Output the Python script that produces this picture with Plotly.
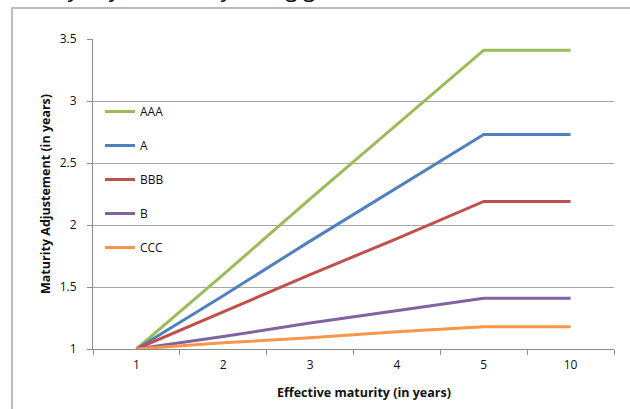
import plotly.graph_objects as go

# Effective maturity buckets (categorical axis)
maturities = ["1", "2", "3", "4", "5", "10"]

# Maturity adjustment by rating grade
aaa = [1.00, 1.60, 2.21, 2.81, 3.41, 3.41]
a_grade = [1.00, 1.43, 1.87, 2.30, 2.73, 2.73]
bbb = [1.00, 1.30, 1.60, 1.89, 2.19, 2.19]
b_grade = [1.00, 1.10, 1.21, 1.31, 1.41, 1.41]
ccc = [1.00, 1.05, 1.09, 1.14, 1.18, 1.18]

series = [
    ("AAA", aaa, "#9BBB59"),
    ("A", a_grade, "#4F81BD"),
    ("BBB", bbb, "#C0504D"),
    ("B", b_grade, "#8064A2"),
    ("CCC", ccc, "#F79646"),
]

W, H = 630, 409
L, R, T, B = 93, 16, 39, 60
pw, ph = W - L - R, H - T - B


def px(x):
    return (x - L) / pw


def py(y):
    return (H - B - y) / ph


font = "Open Sans, Noto Sans, sans-serif"

fig = go.Figure()
for name, vals, col in series:
    fig.add_trace(go.Scatter(
        x=maturities, y=vals, name=name, mode="lines",
        line=dict(color=col, width=3), legendgroup=name,
    ))

fig.update_layout(
    width=W, height=H,
    margin=dict(l=L, r=R, t=T, b=B),
    paper_bgcolor="white", plot_bgcolor="white",
    font=dict(family=font, size=12, color="#111111"),
    showlegend=True,
    legend=dict(
        x=px(100), y=py(97), xanchor="left", yanchor="top",
        bgcolor="rgba(0,0,0,0)", tracegroupgap=15,
        font=dict(size=12, color="#111111"),
    ),
    xaxis=dict(
        type="category", range=[-0.5, len(maturities) - 0.5],
        showgrid=False, showline=True,
        linecolor="#8c8c8c", linewidth=1,
        ticks="outside", tickson="boundaries", ticklen=5,
        tickcolor="#8c8c8c", ticklabelstandoff=5,
        tickfont=dict(size=12), zeroline=False,
    ),
    yaxis=dict(
        range=[1, 3.5], dtick=0.5, tick0=1,
        showgrid=True, gridcolor="#a6a6a6", gridwidth=1,
        showline=True, linecolor="#8c8c8c", linewidth=1,
        ticks="outside", ticklen=5, tickcolor="#8c8c8c",
        ticklabelstandoff=8, tickfont=dict(size=12),
        zeroline=False,
    ),
    annotations=[
        dict(text="<b>Effective maturity (in years)</b>", xref="paper",
             yref="paper", x=px(364), y=py(392), showarrow=False,
             font=dict(size=12.5), xanchor="center", yanchor="middle"),
        dict(text="<b>Maturity Adjustement (in years)</b>", xref="paper",
             yref="paper", x=px(45), y=py(194), showarrow=False,
             textangle=-90, font=dict(size=12.5),
             xanchor="center", yanchor="middle"),
        dict(text="Maturity adjustment by rating grade",
             xref="paper", yref="paper", x=px(-10), y=py(5),
             showarrow=False, font=dict(size=22, color="#000000"),
             xanchor="left", yanchor="bottom"),
    ],
    shapes=[
        dict(type="rect", xref="paper", yref="paper",
             x0=px(12), x1=px(660), y0=py(440), y1=py(8),
             line=dict(color="#a6a6a6", width=1.5), layer="below"),
    ],
)

fig.write_html("out.html")
